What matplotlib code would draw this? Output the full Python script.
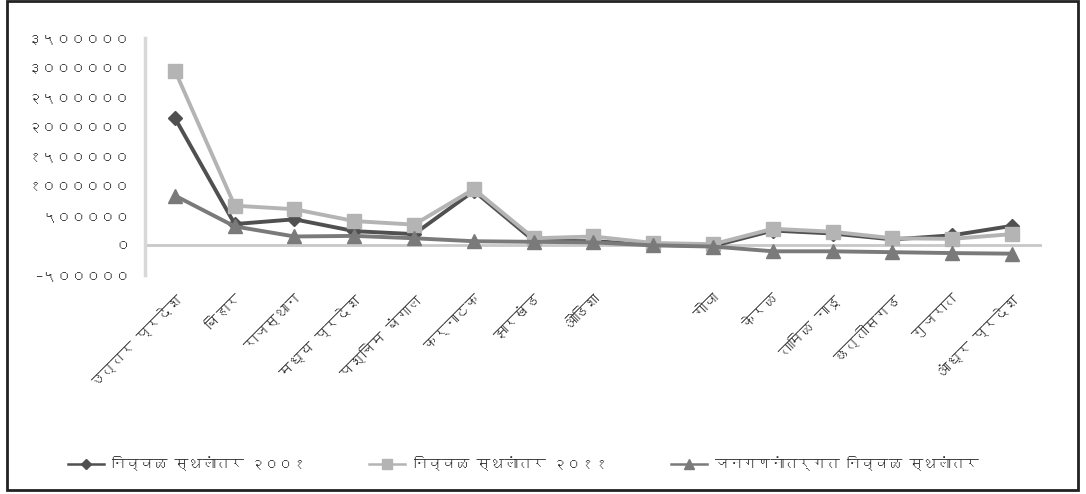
import matplotlib
matplotlib.use("Agg")
import matplotlib.pyplot as plt
from matplotlib import font_manager
from matplotlib.ft2font import FT2Font
from matplotlib.ticker import FuncFormatter, MultipleLocator
from matplotlib.patches import Rectangle

# ---- data ----
categories = ['उत्तर प्रदेश', 'बिहार', 'राजस्थान', 'मध्य प्रदेश', 'पश्चिम बंगाल',
              'कर्नाटक', 'झारखंड', 'ओडिशा', '', 'गोवा', 'केरळ', 'तामिळ नाडू',
              'छत्तीसगड', 'गुजरात', 'आंध्र प्रदेश']
net_2001 = [2150000, 360000, 440000, 240000, 190000, 920000, 80000, 70000,
            10000, -10000, 250000, 200000, 100000, 170000, 330000]
net_2011 = [2950000, 670000, 610000, 410000, 350000, 950000, 120000, 150000,
            40000, 20000, 280000, 230000, 120000, 110000, 190000]
net_census = [840000, 320000, 150000, 160000, 120000, 70000, 60000, 50000,
              0, -20000, -100000, -100000, -115000, -130000, -140000]
series_labels = ['निव्वळ स्थलांतर २००१', 'निव्वळ स्थलांतर २०११',
                 'जनगणनांतर्गत निव्वळ स्थलांतर']

# ---- font with Devanagari ----
fam = ['DejaVu Sans']
for f in font_manager.fontManager.ttflist:
    try:
        if 0x0915 in FT2Font(f.fname).get_charmap():
            fam = [f.name, 'DejaVu Sans']
            break
    except Exception:
        pass
plt.rcParams['font.family'] = fam

DEV = str.maketrans('0123456789-', '०१२३४५६७८९−')

fig = plt.figure(figsize=(10.86, 4.94), dpi=100)
ax = fig.add_axes([145/1086, 1-275/494, (1042-145)/1086, (275-38)/494])

x = list(range(len(categories)))
l1, = ax.plot(x, net_2001, color='#505050', lw=2.8, marker='D', ms=7, label=series_labels[0], zorder=3)
l2, = ax.plot(x, net_2011, color='#b4b4b4', lw=2.8, marker='s', ms=10, label=series_labels[1], zorder=4)
l3, = ax.plot(x, net_census, color='#7a7a7a', lw=2.8, marker='^', ms=10, label=series_labels[2], zorder=5)

ax.set_xlim(-0.5, len(categories)-0.5)
ax.set_ylim(-500000, 3500000)
ax.yaxis.set_major_locator(MultipleLocator(500000))
ax.yaxis.set_major_formatter(FuncFormatter(lambda v, p: str(int(round(v))).translate(DEV)))
ax.axhline(0, color='#c8c8c8', lw=2, zorder=1)

for s in ['top', 'right', 'bottom']:
    ax.spines[s].set_visible(False)
ax.spines['left'].set_color('#d8d8d8')
ax.spines['left'].set_linewidth(2.5)
ax.tick_params(axis='both', length=0, colors='#333333')
ax.tick_params(axis='y', labelsize=10.5, pad=11)
ax.set_xticks(x)
ax.set_xticklabels(categories, rotation=45, ha='right', va='top',
                   rotation_mode='anchor', fontsize=10.5)
ax.tick_params(axis='x', pad=12)

leg = fig.legend(handles=[l1, l2, l3], loc='center', bbox_to_anchor=(0.482, 1-463/494),
                 ncol=3, frameon=False, fontsize=10, handlelength=2.6,
                 columnspacing=4.5, labelcolor='#333333', markerscale=0.7,
                 handletextpad=0.6)
for h in leg.legend_handles:
    h.set_linewidth(1.8)

fig.patches.append(Rectangle((7/1086, 1-490/494), (1078-7)/1086, (490-1)/494,
                             transform=fig.transFigure, fill=False,
                             edgecolor='#222222', lw=2))

fig.savefig('out.png', dpi=100)
